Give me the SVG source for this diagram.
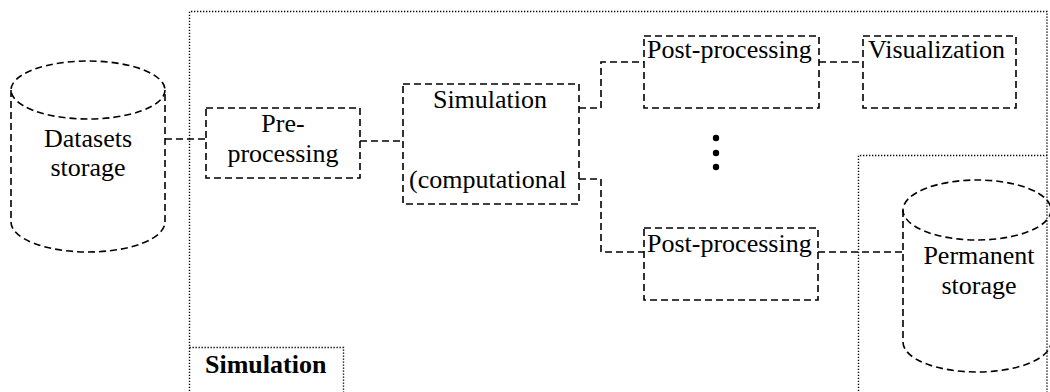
<svg xmlns="http://www.w3.org/2000/svg" width="1050" height="392" viewBox="0 0 1050 392">
<style>
.d{fill:none;stroke:#000;stroke-width:1.6;stroke-dasharray:7,4}
.f{fill:none;stroke:#000;stroke-width:1.4;stroke-dasharray:1.3,1.7}
.t{font-family:"Liberation Serif","Times New Roman",serif;font-size:26px;fill:#000}
.m{text-anchor:middle}
.b{font-weight:bold}
</style>
<rect width="1050" height="392" fill="#fff"/>
<g id="frame-simulation">
<path class="f" d="M189.5,400 V11.5 H1047 V400"/>
<path class="f" d="M189.5,347.5 H343.5 V400"/>
<text class="t b" x="205" y="373">Simulation</text>
</g>
<g id="frame-permanent">
<path class="f" d="M858.5,400 V155.5 H1047"/>
</g>
<g id="connectors">
<path class="d" d="M165,139 H206"/>
<path class="d" d="M360,141 H403"/>
<path class="d" d="M579,108 H601 V62 H644"/>
<path class="d" d="M819,62 H863"/>
<path class="d" d="M579,179 H601 V252 H644"/>
<path class="d" d="M818,252 H903"/>
</g>
<g id="datasets-storage">
<path class="d" d="M11,90 V222 A77,30 0 0 0 165,222 V90"/>
<ellipse class="d" cx="88" cy="90" rx="77" ry="29"/>
<text class="t m" x="88" y="147">Datasets</text>
<text class="t m" x="88" y="176">storage</text>
</g>
<g id="pre-processing">
<rect class="d" x="206" y="108" width="154" height="70"/>
<text class="t m" x="283" y="132">Pre-</text>
<text class="t m" x="283" y="162">processing</text>
</g>
<g id="simulation">
<rect class="d" x="403" y="84" width="176" height="120"/>
<text class="t m" x="490" y="108">Simulation</text>
<text class="t" x="409" y="188">(computational</text>
</g>
<g id="post-processing-1">
<rect class="d" x="644" y="36" width="175" height="72"/>
<text class="t" x="647" y="58">Post-processing</text>
</g>
<g id="visualization">
<rect class="d" x="863" y="36" width="153" height="72"/>
<text class="t" x="868" y="58">Visualization</text>
</g>
<g id="ellipsis">
<circle cx="716" cy="138" r="3.2"/>
<circle cx="716" cy="153" r="3.2"/>
<circle cx="716" cy="167" r="3.2"/>
</g>
<g id="post-processing-2">
<rect class="d" x="644" y="228" width="174" height="72"/>
<text class="t" x="647" y="252">Post-processing</text>
</g>
<g id="permanent-storage">
<path class="d" d="M903,210 V342 A74,30 0 0 0 1051,342 V210"/>
<ellipse class="d" cx="977" cy="210" rx="74" ry="30"/>
<text class="t m" x="979" y="264">Permanent</text>
<text class="t m" x="979" y="294">storage</text>
</g>
</svg>
